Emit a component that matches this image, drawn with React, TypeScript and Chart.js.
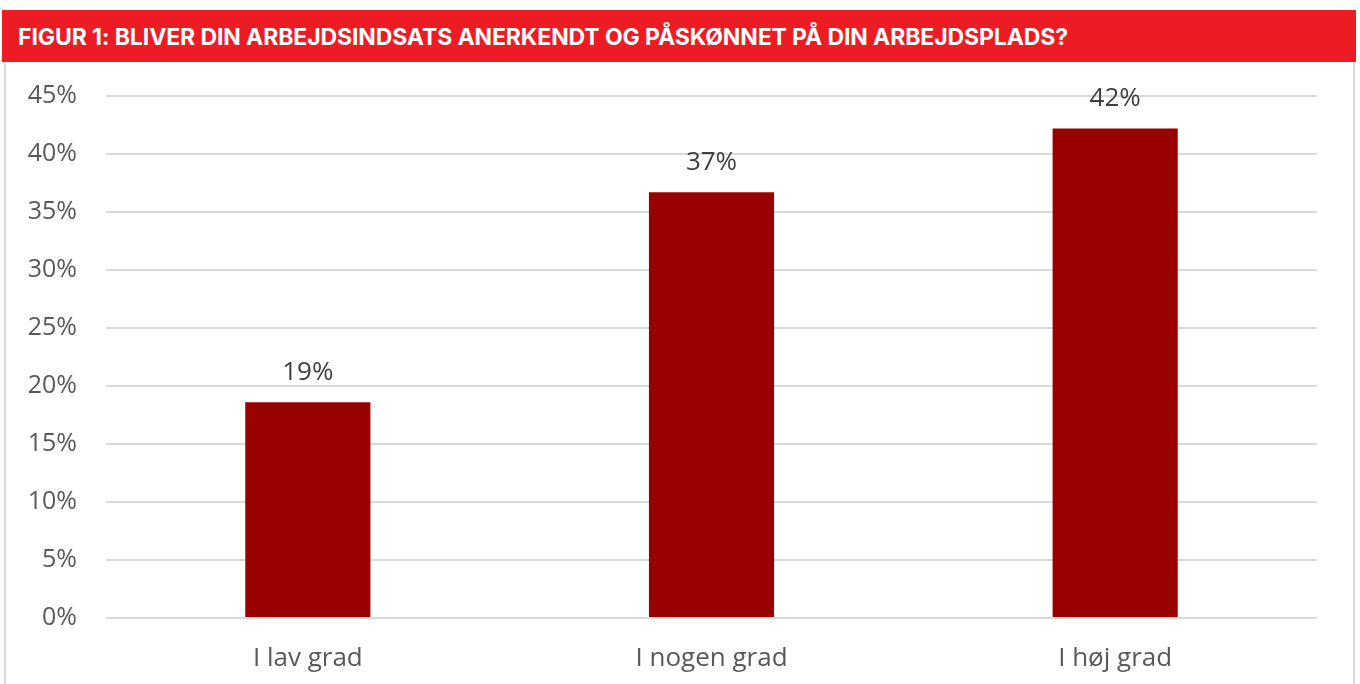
import React, { useEffect, useRef } from "react";
import { Chart, registerables } from "chart.js";

Chart.register(...registerables);

const TITLE = "FIGUR 1: BLIVER DIN ARBEJDSINDSATS ANERKENDT OG PÅSKØNNET PÅ DIN ARBEJDSPLADS?";
const categories = ["I lav grad", "I nogen grad", "I høj grad"];
const values = [18.6, 36.7, 42.2];
const valueLabels = ["19%", "37%", "42%"];
const yTicks = [0, 5, 10, 15, 20, 25, 30, 35, 40, 45];

const FONT = "'Open Sans', 'Noto Sans', sans-serif";

const dataLabelPlugin = {
  id: "dataLabels",
  afterDatasetsDraw(chart: any) {
    const ctx = chart.ctx;
    const meta = chart.getDatasetMeta(0);
    ctx.save();
    ctx.font = `26px ${FONT}`;
    ctx.fillStyle = "#404040";
    ctx.textAlign = "center";
    ctx.textBaseline = "middle";
    meta.data.forEach((el: any, i: number) => {
      ctx.fillText(valueLabels[i], el.x, el.y - 30);
    });
    ctx.restore();
  },
};

export default function App() {
  const ref = useRef<HTMLCanvasElement>(null);
  useEffect(() => {
    if (!ref.current) return;
    const chart = new Chart(ref.current, {
      type: "bar",
      data: {
        labels: categories,
        datasets: [
          {
            data: values,
            backgroundColor: "#990000",
            borderWidth: 0,
            categoryPercentage: 1,
            barPercentage: 0.31,
          },
        ],
      },
      options: {
        animation: false,
        responsive: false,
        maintainAspectRatio: false,
        layout: { padding: { top: 34, right: 36, bottom: 0, left: 0 } },
        plugins: { legend: { display: false }, tooltip: { enabled: false }, title: { display: false } },
        scales: {
          x: {
            grid: { display: false, drawTicks: false },
            border: { display: false },
            ticks: { color: "#595959", font: { family: FONT, size: 26 }, padding: 25 },
            afterFit(scale: any) {
              scale.height = 66;
            },
          },
          y: {
            min: 0,
            max: 45,
            afterBuildTicks(scale: any) {
              scale.ticks = yTicks.map((v) => ({ value: v }));
            },
            grid: { color: "#d9d9d9", lineWidth: 2, drawTicks: false },
            border: { display: false },
            ticks: {
              color: "#595959",
              font: { family: FONT, size: 25 },
              padding: 29,
              callback: (v: any) => `${v}%`,
            },
            afterFit(scale: any) {
              scale.width = 100;
              scale.paddingTop = 0;
            },
          },
        },
      },
      plugins: [dataLabelPlugin],
    });
    return () => chart.destroy();
  }, []);

  return (
    <div style={{ position: "fixed", left: 0, top: 0, width: 1360, height: 684, background: "#fff", overflow: "hidden" }}>
      <div
        style={{
          position: "absolute",
          left: 2,
          top: 10,
          width: 1354,
          height: 52,
          background: "#ED1C24",
          color: "#fff",
          fontFamily: "Inter, 'Liberation Sans', sans-serif",
          fontWeight: 700,
          fontSize: 23,
          lineHeight: "52px",
          paddingLeft: 16,
          boxSizing: "border-box",
          whiteSpace: "nowrap",
          paddingTop: 1,
          letterSpacing: -0.1,
        }}
      >
        {TITLE}
      </div>
      <div style={{ position: "absolute", left: 4, top: 62, width: 2, height: 622, background: "#d9d9d9" }} />
      <div style={{ position: "absolute", left: 1353, top: 62, width: 2, height: 622, background: "#d9d9d9" }} />
      <canvas ref={ref} width={1347} height={622} style={{ position: "absolute", left: 6, top: 62, width: 1347, height: 622 }} />
    </div>
  );
}
